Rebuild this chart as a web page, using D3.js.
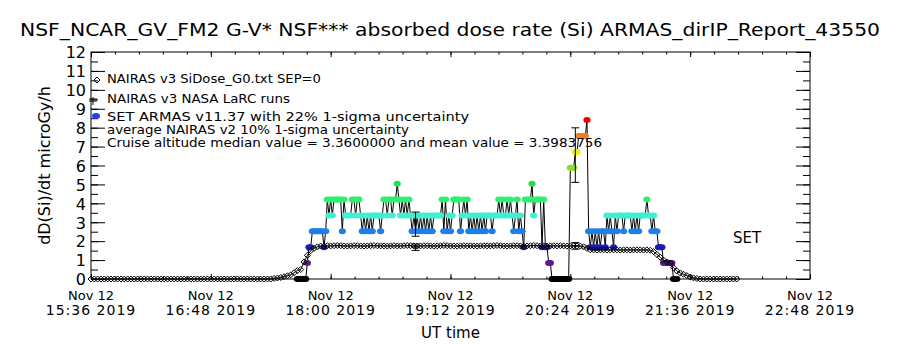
<!DOCTYPE html>
<html>
<head>
<meta charset="utf-8">
<script src="https://cdn.jsdelivr.net/npm/d3@7"></script>
<style>
  body { margin: 0; background: #fff; }
  svg text { font-family: 'DejaVu Sans', sans-serif; fill: #000; }
</style>
</head>
<body>
<div id="chart"></div>
<script>
// ---- data ----
const titleText = 'NSF_NCAR_GV_FM2 G-V* NSF*** absorbed dose rate (Si) ARMAS_dirIP_Report_43550'
const legendLabels = [
  'NAIRAS v3 SiDose_G0.txt SEP=0',
  'NAIRAS v3 NASA LaRC runs',
  'SET ARMAS v11.37 with 22% 1-sigma uncertainty',
  'average NAIRAS v2 10% 1-sigma uncertainty',
  'Cruise altitude median value = 3.3600000 and mean value = 3.3983756'
]
const xTickTimes = ['15:36', '16:48', '18:00', '19:12', '20:24', '21:36', '22:48']
const yTickValues = [0, 1, 2, 3, 4, 5, 6, 7, 8, 9, 10, 11, 12]

// NAIRAS model dose rate, every 2 min from 15:36 (microGy/h)
const nairasStart = '15:36'
const nairasStepMin = 2
const nairasDose = [
  0, 0, 0, 0, 0, 0, 0, 0, 0, 0,
  0, 0, 0, 0, 0, 0, 0, 0, 0, 0,
  0, 0, 0, 0, 0, 0, 0, 0, 0, 0,
  0, 0, 0, 0, 0, 0, 0, 0, 0, 0,
  0, 0, 0, 0, 0, 0, 0, 0, 0, 0,
  0, 0, 0, 0, 0, 0.03, 0.05, 0.08, 0.12, 0.17,
  0.22, 0.33, 0.45, 0.5, 0.9, 1.25, 1.5, 1.62, 1.7, 1.74,
  1.75, 1.76, 1.75, 1.76, 1.77, 1.76, 1.75, 1.74, 1.75, 1.76,
  1.76, 1.75, 1.74, 1.75, 1.76, 1.77, 1.76, 1.75, 1.75, 1.74,
  1.75, 1.76, 1.75, 1.75, 1.76, 1.77, 1.76, 1.75, 1.74, 1.75,
  1.76, 1.76, 1.75, 1.74, 1.75, 1.76, 1.77, 1.76, 1.75, 1.75,
  1.74, 1.75, 1.76, 1.75, 1.76, 1.75, 1.74, 1.75, 1.76, 1.75,
  1.75, 1.76, 1.77, 1.76, 1.75, 1.74, 1.75, 1.76, 1.76, 1.75,
  1.74, 1.75, 1.76, 1.77, 1.76, 1.75, 1.75, 1.74, 1.75, 1.76,
  1.75, 1.76, 1.75, 1.74, 1.75, 1.76, 1.75, 1.74, 1.70, 1.62,
  1.54, 1.54, 1.53, 1.54, 1.54, 1.53, 1.54, 1.54, 1.54, 1.53,
  1.54, 1.54, 1.53, 1.54, 1.54, 1.54, 1.53, 1.54, 1.52, 1.45,
  1.3, 1.15, 1.0, 0.9, 0.85, 0.6, 0.42, 0.32, 0.25, 0.18,
  0.1, 0.06, 0.03, 0, 0, 0, 0, 0, 0, 0,
  0, 0, 0, 0, 0
]

// ARMAS measured dose rate, every minute from 17:40 (microGy/h)
const armasStart = '17:40'
const armasStepMin = 1
const armasDose = [
  0, 0, 0, 0, 0, 0, 0.84, 1.68, 1.68, 2.52,
  2.52, 2.52, 2.52, 2.52, 2.52, 2.52, 1.68, 2.52, 4.2, 3.36,
  4.2, 3.36, 4.2, 4.2, 4.2, 4.2, 4.2, 2.52, 4.2, 3.36,
  3.36, 3.36, 3.36, 4.2, 4.2, 3.36, 4.2, 4.2, 3.36, 2.52,
  3.36, 2.52, 3.36, 2.52, 3.36, 2.52, 3.36, 3.36, 3.36, 3.36,
  2.52, 3.36, 4.2, 4.2, 3.36, 4.2, 4.2, 3.36, 4.2, 4.2,
  5.04, 4.2, 3.36, 4.2, 3.36, 4.2, 3.36, 4.2, 3.36, 2.52,
  3.36, 2.52, 3.36, 2.52, 3.36, 2.52, 3.36, 2.52, 3.36, 2.52,
  3.36, 2.52, 3.36, 3.36, 3.36, 3.36, 3.36, 4.2, 2.52, 4.2,
  2.52, 3.36, 2.52, 3.36, 4.2, 4.2, 4.2, 4.2, 2.52, 3.36,
  4.2, 3.36, 4.2, 2.52, 3.36, 2.52, 3.36, 2.52, 3.36, 2.52,
  3.36, 2.52, 3.36, 2.52, 3.36, 3.36, 3.36, 2.52, 3.36, 3.36,
  3.36, 4.2, 3.36, 4.2, 3.36, 3.36, 4.2, 3.36, 4.2, 3.36,
  2.52, 3.36, 4.2, 2.52, 3.36, 2.52, 1.68, 4.2, 4.2, 4.2,
  4.2, 5.04, 3.36, 4.2, 4.2, 4.2, 4.2, 1.68, 4.2, 1.68,
  1.68, 0.84, 0.84, 0, 0, 0, 0, 0, 0, 0,
  0, 0, 0, 0, 5.88, 5.88, 5.88, 6.72, 6.72, 7.56,
  7.56, 7.56, 7.56, 7.56, 8.4, 2.52, 1.68, 2.52, 1.68, 2.52,
  1.68, 2.52, 1.68, 2.52, 2.52, 1.68, 3.36, 2.52, 3.36, 2.52,
  1.68, 3.36, 2.52, 3.36, 3.36, 3.36, 2.52, 3.36, 3.36, 3.36,
  3.36, 2.52, 3.36, 2.52, 3.36, 2.52, 3.36, 3.36, 3.36, 3.36,
  4.2, 3.36, 3.36, 2.52, 3.36, 2.52, 2.52, 1.68, 1.68, 1.68,
  0.84, 0.84, 0.84, 0.84, 0.84, 0.84, 0, 0, 0
]

// error bars (ARMAS 22 %, NAIRAS 10 %)
const errTimes = ['18:51', '20:27']
const armasErrCenter = [2.9, 6.55]
const nairasErrCenter = [1.68, 1.75]
const armasErrFrac = 0.22
const nairasErrFrac = 0.10

// colour of each ARMAS dose step (0.84 microGy/h quantum)
const levelBreaks = [0.42, 1.26, 2.1, 2.94, 3.78, 4.62, 5.46, 6.3, 7.14, 7.98]
const levelColors = ['#000000', '#5a1a8c', '#1c1cb4', '#1f7fe8', '#3ff0d0', '#2cf070',
  '#20e050', '#8ce020', '#e8f010', '#f08020', '#f00000']

// ---- layout ----
const W = 900
const H = 350
const margin = { top: 52, right: 90, bottom: 71, left: 91 }
const width = W - margin.left - margin.right
const height = H - margin.top - margin.bottom

const parseTime = d3.utcParse('%Y-%m-%d %H:%M')
const at = hm => parseTime('2019-11-12 ' + hm)
const addMin = (t, m) => new Date(t.getTime() + m * 60000)

const svg = d3.select('#chart').append('svg')
  .attr('width', W)
  .attr('height', H)

const g = svg.append('g').attr('transform', 'translate(' + margin.left + ',' + margin.top + ')')

const x = d3.scaleUtc().domain([at(xTickTimes[0]), at(xTickTimes[xTickTimes.length - 1])]).range([0, width])
const y = d3.scaleLinear().domain([0, 12]).range([height, 0])
const color = d3.scaleThreshold().domain(levelBreaks).range(levelColors)

// title
svg.append('text')
  .attr('x', 20).attr('y', 36)
  .attr('textLength', 860).attr('lengthAdjust', 'spacingAndGlyphs')
  .style('font-size', '18px')
  .text(titleText)

// frame
g.append('rect')
  .attr('width', width).attr('height', height)
  .attr('fill', 'none').attr('stroke', '#000').attr('stroke-width', 1)

// x ticks
const majorX = xTickTimes.map(at)
const minorX = d3.range(0, 31).map(i => addMin(majorX[0], i * 14.4))
const tickAxis = (axis, values, size) => axis(x).tickValues(values).tickSize(size).tickSizeOuter(0).tickFormat('')
const drawTicks = (sel) => { sel.select('.domain').remove(); sel.selectAll('line').attr('stroke', '#000') }
g.append('g').attr('transform', 'translate(0,' + height + ')').call(tickAxis(d3.axisBottom, minorX, -2.5)).call(drawTicks)
g.append('g').attr('transform', 'translate(0,' + height + ')').call(tickAxis(d3.axisBottom, majorX, -5)).call(drawTicks)
g.append('g').call(tickAxis(d3.axisTop, minorX, -2.5)).call(drawTicks)
g.append('g').call(tickAxis(d3.axisTop, majorX, -5)).call(drawTicks)

// x tick labels (two lines)
const fmtDay = d3.utcFormat('%b %d')
const fmtTime = d3.utcFormat('%H:%M %Y')
const xLabels = g.append('g').attr('text-anchor', 'middle')
xLabels.selectAll('text.day').data(majorX).enter().append('text')
  .attr('class', 'day')
  .attr('x', d => x(d)).attr('y', height + 21)
  .style('font-size', '13px')
  .text(d => fmtDay(d))
xLabels.selectAll('text.time').data(majorX).enter().append('text')
  .attr('class', 'time')
  .attr('x', d => x(d)).attr('y', height + 36)
  .style('font-size', '14px').style('letter-spacing', '1px')
  .text(d => fmtTime(d))

svg.append('text')
  .attr('x', margin.left + width / 2).attr('y', 338)
  .attr('text-anchor', 'middle')
  .style('font-size', '15px')
  .text('UT time')

// y ticks
const halfY = d3.range(0, 12.5, 0.5)
const yAxisTicks = (axis, values, size) => axis(y).tickValues(values).tickSize(size).tickSizeOuter(0)
g.append('g').call(yAxisTicks(d3.axisLeft, halfY, -7).tickFormat('')).call(drawTicks)
g.append('g').call(yAxisTicks(d3.axisLeft, yTickValues, -14).tickFormat(d3.format('d')))
  .call(drawTicks)
  .call(s => s.selectAll('text').attr('x', -5).attr('dy', '0.36em').style('font-size', '16px').style('font-family', "'DejaVu Sans', sans-serif"))
g.append('g').attr('transform', 'translate(' + width + ',0)').call(yAxisTicks(d3.axisRight, halfY, -7).tickFormat('')).call(drawTicks)
g.append('g').attr('transform', 'translate(' + width + ',0)').call(yAxisTicks(d3.axisRight, yTickValues, -14).tickFormat('')).call(drawTicks)

svg.append('text')
  .attr('transform', 'translate(50,' + (margin.top + height / 2) + ') rotate(-90)')
  .attr('text-anchor', 'middle')
  .style('font-size', '16px')
  .text('dD(Si)/dt microGy/h')

// ARMAS series
const armas = armasDose.map((v, i) => ({ t: addMin(at(armasStart), i * armasStepMin), v }))
const line = d3.line().x(d => x(d.t)).y(d => y(d.v))
g.append('path').datum(armas)
  .attr('d', line).attr('fill', 'none').attr('stroke', '#000').attr('stroke-width', 1)
g.append('g').selectAll('ellipse').data(armas).enter().append('ellipse')
  .attr('cx', d => x(d.t)).attr('cy', d => y(d.v))
  .attr('rx', 3.6).attr('ry', 3)
  .attr('fill', d => color(d.v))

// NAIRAS series (diamonds)
const nairas = nairasDose.map((v, i) => ({ t: addMin(at(nairasStart), i * nairasStepMin), v }))
const diamond = (cx, cy, r) => 'M' + (cx - r) + ',' + cy + 'L' + cx + ',' + (cy - r) + 'L' + (cx + r) + ',' + cy + 'L' + cx + ',' + (cy + r) + 'Z'
g.append('path').datum(nairas)
  .attr('d', line).attr('fill', 'none').attr('stroke', '#000').attr('stroke-width', 1)
g.append('g').selectAll('path').data(nairas).enter().append('path')
  .attr('d', d => diamond(x(d.t), y(d.v), 3))
  .attr('fill', 'none').attr('stroke', '#000').attr('stroke-width', 1)

// error bars
const errBar = (t, lo, hi, cap, mid) => {
  const eg = g.append('g').attr('stroke', '#000').attr('stroke-width', 1)
  eg.append('line').attr('x1', x(t)).attr('x2', x(t)).attr('y1', y(lo)).attr('y2', y(hi))
  ;[lo, hi].concat(mid !== undefined ? [mid] : []).forEach(v => {
    eg.append('line').attr('x1', x(t) - cap).attr('x2', x(t) + cap).attr('y1', y(v)).attr('y2', y(v))
  })
}
errTimes.forEach((hm, i) => {
  const t = at(hm)
  const a = armasErrCenter[i]
  errBar(t, a * (1 - armasErrFrac), a * (1 + armasErrFrac), 4)
  const n = nairasErrCenter[i]
  errBar(t, n * (1 - nairasErrFrac), n * (1 + nairasErrFrac), 4, n)
})

// legend
const legendY = [78, 98, 116, 130, 143]
const legendLen = [214, 183, 362, 302, 495]
svg.append('g').selectAll('text').data(legendLabels).enter().append('text')
  .attr('x', 107).attr('y', (d, i) => legendY[i])
  .attr('dy', '0.35em')
  .attr('textLength', (d, i) => legendLen[i]).attr('lengthAdjust', 'spacingAndGlyphs')
  .style('font-size', (d, i) => i > 2 ? '12px' : '13px')
  .text(d => d)
svg.append('path').attr('d', diamond(97, legendY[0] + 2, 3)).attr('fill', 'none').attr('stroke', '#000')
svg.append('path').attr('d', 'M89,' + (legendY[1] + 3) + 'h8M93,' + (legendY[1] - 1) + 'v8M89,' + (legendY[1] + 1) + 'h8')
  .attr('stroke', '#000').attr('fill', 'none')
svg.append('ellipse').attr('cx', 96).attr('cy', legendY[2]).attr('rx', 4).attr('ry', 3).attr('fill', '#1f3ff0')

svg.append('text')
  .attr('x', 733).attr('y', 243)
  .style('font-size', '15px')
  .text('SET')
</script>
</body>
</html>
